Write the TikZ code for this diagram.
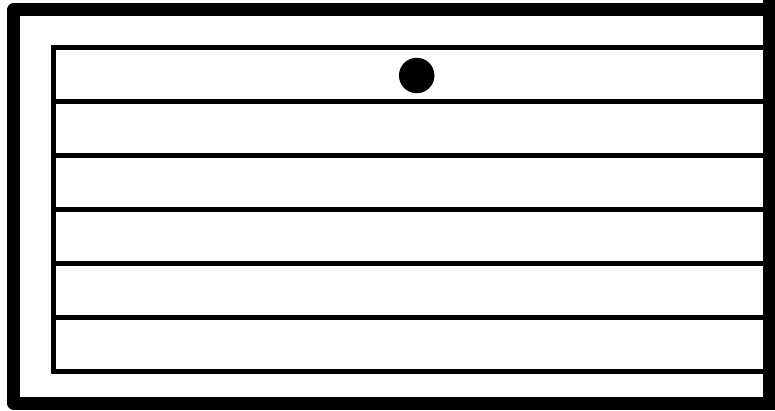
\documentclass[tikz,border=0pt]{standalone}
\begin{document}
\begin{tikzpicture}[x=1pt,y=-1pt,
  outerline/.style={line width=13pt,line join=round,line cap=round},
  rightline/.style={line width=12pt},
  shelfline/.style={line width=4.6pt,line join=miter},
  dotstyle/.style={circle,fill=black,inner sep=0pt,minimum size=35.5pt}]
\useasboundingbox (0,0) rectangle (775,410);
\draw[outerline] (769,9.8) -- (13.7,9.8) -- (13.7,403) -- (769,403);
\draw[rightline] (769,0) -- (769,410);
\draw[shelfline] (769,47.5) -- (53.3,47.5) -- (53.3,371.5) -- (769,371.5);
\foreach \k in {1,...,5}{
  \draw[shelfline] (53.3,{47.5+54*\k}) -- (769,{47.5+54*\k});
}
\node[dotstyle] (dot) at (416.7,75.5) {};
\end{tikzpicture}
\end{document}
